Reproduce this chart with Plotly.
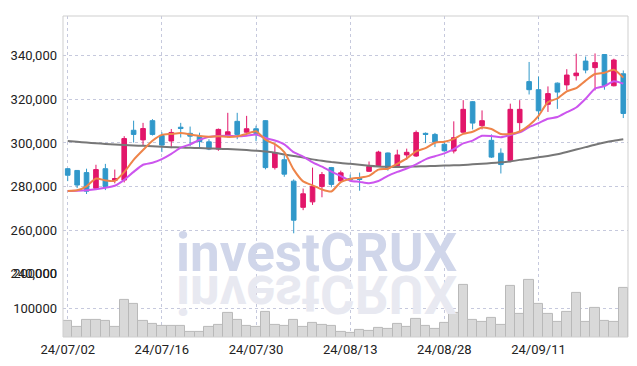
import plotly.graph_objects as go

dates = (
    ["2024-07-%02d" % d for d in [2, 3, 4, 5, 8, 9, 10, 11, 12, 15, 16, 17, 18, 19, 22, 23, 24, 25, 26, 29, 30, 31]]
    + ["2024-08-%02d" % d for d in [1, 2, 5, 6, 7, 8, 9, 12, 13, 14, 16, 19, 20, 21, 22, 23, 26, 27, 28, 29, 30]]
    + ["2024-09-%02d" % d for d in [2, 3, 4, 5, 6, 9, 10, 11, 12, 13, 19, 20, 23, 24, 25, 26, 27]]
)

open_ = [288200, 287400, 286400, 279200, 288200, 282800, 283000, 305800, 301400, 310200,
         303400, 300900, 307200, 304400, 303100, 300500, 297200, 303000, 309900, 304900,
         306500, 310200, 288700, 292300, 282500, 270500, 273000, 280000, 288700, 282600,
         283700, 283700, 287000, 289600, 295400, 289600, 294500, 294000, 304400, 303900,
         299400, 296300, 304900, 318900, 307900, 301200, 295300, 291900, 309300, 328100,
         324400, 317700, 327400, 326600, 330800, 337500, 334500, 340500, 326200, 331700]
high = [288500, 287600, 288200, 290000, 290400, 287800, 303100, 310200, 309200, 310900,
        304900, 306400, 309200, 307500, 304700, 301700, 306600, 313800, 313800, 312400,
        307900, 310400, 299000, 294200, 283300, 279100, 288700, 286700, 289000, 287300,
        285500, 286400, 291500, 296400, 295600, 296900, 297400, 305700, 304800, 304600,
        301000, 309900, 319600, 319200, 314900, 303900, 297500, 318000, 319600, 337100,
        330400, 325900, 327700, 333800, 340900, 339600, 341000, 340700, 338600, 333200]
low = [282500, 279300, 276600, 278800, 278400, 281500, 281900, 300200, 299000, 303400,
       295800, 297600, 302500, 298500, 297200, 296700, 296400, 302400, 301700, 304700,
       300800, 287900, 287800, 284500, 258600, 269200, 271600, 275100, 279700, 282300,
       282400, 278100, 286700, 289100, 287300, 289000, 292300, 293600, 299900, 298100,
       296000, 295200, 304700, 306200, 306200, 293100, 286000, 291200, 305300, 322200,
       310900, 314200, 315600, 324100, 328600, 331900, 324100, 324400, 325900, 311400]
close = [285200, 280700, 277900, 287800, 280000, 283700, 302000, 303900, 306600, 303900,
         299000, 304800, 306600, 303100, 300600, 297200, 306200, 305100, 303900, 306500,
         304400, 288700, 295400, 285700, 264600, 276700, 280000, 285500, 281000, 286300,
         283100, 283300, 289200, 295800, 288400, 294500, 295700, 304800, 303900, 300300,
         296400, 302400, 315400, 309100, 310200, 293500, 290100, 315400, 315400, 324400,
         314700, 322600, 323300, 331100, 332000, 333400, 336800, 326300, 338000, 313500]

line_orange = [278030, 278340, 280140, 283730, 282830, 282600, 286640, 292240, 296730, 300990,
               303680, 304130, 304580, 303900, 303230, 302870, 303100, 302780, 303010, 304130,
               305380, 301440, 299420, 295830, 287760, 282380, 280590, 278660, 277760, 282070,
               283500, 284090, 284940, 287760, 288210, 290450, 292920, 296150, 297630, 300090,
               300540, 301890, 304130, 305120, 307040, 306370, 304130, 304130, 305250, 308070,
               312420, 318700, 320360, 323630, 325110, 328570, 331570, 332150, 333500, 329910]
line_purple = [278030, 278120, 278340, 278790, 279470, 280360, 283050, 286730, 290000, 290900,
               292550, 294960, 297830, 299360, 301420, 302770, 303190, 303310, 303040, 303300,
               303840, 302230, 301110, 299370, 295770, 293720, 291100, 289140, 286850, 284830,
               282700, 282160, 281540, 282550, 284930, 286710, 288280, 290210, 292500, 293900,
               295230, 297140, 299760, 301090, 303270, 303170, 302610, 303670, 304820, 307230,
               309060, 311080, 311870, 314070, 316250, 320240, 324910, 326000, 328260, 327170]
line_gray = [300900, 300540, 300180, 299870, 299560, 299290, 299060, 298840, 298660, 298520,
             298300, 298070, 297940, 297760, 297630, 297490, 297310, 297180, 296950, 296730,
             296420, 296060, 295520, 294710, 294040, 293370, 292470, 291800, 291220, 290770,
             290450, 290000, 289550, 289240, 289100, 289020, 289100, 289240, 289330, 289470,
             289640, 289780, 289910, 290180, 290450, 290770, 291120, 291480, 292240, 292780,
             293460, 294040, 294800, 295830, 296950, 298070, 299200, 300180, 300990, 301660]

volume = [62000, 44900, 67700, 67700, 62000, 44900, 124900, 113400, 62000, 53400,
          47700, 47700, 47700, 30600, 30600, 44900, 50600, 86900, 66900, 47700,
          44900, 90600, 52600, 47700, 67700, 44900, 58300, 50600, 47700, 30600,
          27700, 36300, 33400, 42000, 39100, 55400, 44900, 70500, 47700, 39100,
          58300, 86900, 166900, 66900, 61100, 72600, 52600, 164000, 84000, 184000,
          112600, 84000, 61100, 89700, 144000, 61100, 102000, 64000, 61100, 158300]

tick_idx = [0, 10, 20, 30, 40, 50]
tick_labels = ["24/07/02", "24/07/16", "24/07/30", "24/08/13", "24/08/28", "24/09/11"]
price_ticks = [240000, 260000, 280000, 300000, 320000, 340000]
volume_ticks = [100000, 200000]

UP = "#E2166A"
DOWN = "#3098CA"
GRID = "#c6c9dd"
FONT = dict(family="Roboto, Arial, sans-serif", size=13, color="#222222")
VSPLIT = 0.1966

fig = go.Figure()
fig.add_trace(go.Bar(
    x=dates, y=volume, xaxis="x", yaxis="y2",
    marker=dict(color="#d9d9d9", line=dict(color="#b9b9b9", width=1)),
    hoverinfo="skip",
))
fig.add_trace(go.Candlestick(
    x=dates, open=open_, high=high, low=low, close=close,
    increasing=dict(line=dict(color=UP, width=1), fillcolor=UP),
    decreasing=dict(line=dict(color=DOWN, width=1), fillcolor=DOWN),
    whiskerwidth=0, xaxis="x", yaxis="y",
))
fig.add_trace(go.Scatter(x=dates, y=line_gray, mode="lines", yaxis="y",
                         line=dict(color="#777777", width=2, shape="spline", smoothing=0.6)))
fig.add_trace(go.Scatter(x=dates, y=line_purple, mode="lines", yaxis="y",
                         line=dict(color="#CC55EE", width=2, shape="spline", smoothing=0.6)))
fig.add_trace(go.Scatter(x=dates, y=line_orange, mode="lines", yaxis="y",
                         line=dict(color="#EE8449", width=2, shape="spline", smoothing=0.6)))

fig.update_layout(
    width=637, height=366,
    margin=dict(l=63, r=9, t=9, b=29),
    paper_bgcolor="white", plot_bgcolor="white",
    showlegend=False, bargap=0, boxgap=0.3,
    font=FONT,
    xaxis=dict(
        type="category", categoryorder="array", categoryarray=dates,
        range=[-0.5, len(dates) - 0.5], anchor="y2",
        tickmode="array", tickvals=[dates[i] for i in tick_idx], ticktext=tick_labels,
        showgrid=True, gridcolor=GRID, griddash="dot", gridwidth=1,
        rangeslider=dict(visible=False), ticks="", ticklabelstandoff=3,
        tickfont=FONT, showline=False, zeroline=False,
    ),
    yaxis=dict(
        domain=[VSPLIT, 1], range=[240000, 358160],
        tickmode="array", tickvals=price_ticks, tickformat=",d",
        showgrid=True, gridcolor=GRID, griddash="dot", gridwidth=1,
        zeroline=False, ticks="", ticklabelstandoff=5, tickfont=FONT, showline=False,
    ),
    yaxis2=dict(
        domain=[0, VSPLIT], range=[16500, 200000], anchor="x",
        tickmode="array", tickvals=volume_ticks, tickformat="d",
        showgrid=True, gridcolor=GRID, griddash="dot", gridwidth=1,
        zeroline=False, ticks="", ticklabelstandoff=5, tickfont=FONT, showline=False,
    ),
    shapes=[dict(type="rect", xref="paper", yref="paper", x0=0, x1=1, y0=0, y1=1,
                 line=dict(color="#cfcfcf", width=1), layer="above")],
    annotations=[
        dict(text="investCRUX", xref="paper", yref="paper", x=0.449, y=VSPLIT,
             xanchor="center", yanchor="bottom", yshift=-12, showarrow=False,
             font=dict(family="Roboto", size=53, color="#d0d6ea", weight="bold")),
        dict(text="investCRUX", xref="paper", yref="paper", x=0.449, y=VSPLIT,
             xanchor="center", yanchor="top", yshift=13, showarrow=False,
             font=dict(family="Roboto", size=53, color="#e8e9f1", weight="bold")),
    ],
)

post = """
document.documentElement.style.margin = '0';
document.documentElement.style.padding = '0';
document.body.style.margin = '0';
document.body.style.padding = '0';
document.body.style.overflow = 'hidden';
document.querySelectorAll('g.annotation').forEach(function(g){
  if (g.getAttribute('data-index') === '1') {
    var t = g.querySelector('text.annotation-text');
    if (t) {
      t.style.transformBox = 'fill-box';
      t.style.transformOrigin = 'center';
      t.style.transform = 'scaleY(-1)';
    }
  }
});
"""

fig.write_html("out.html", post_script=post, config={"displayModeBar": False})
